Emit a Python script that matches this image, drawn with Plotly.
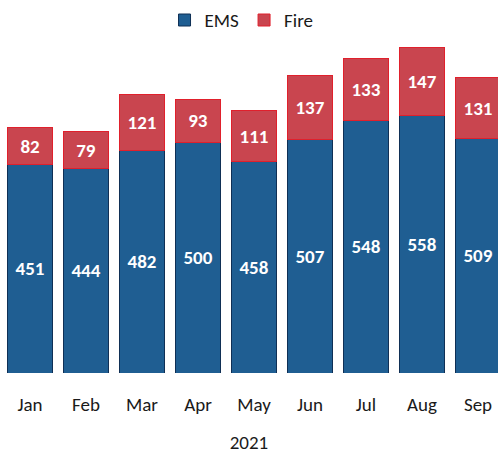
import plotly.graph_objects as go

months = ["Jan", "Feb", "Mar", "Apr", "May", "Jun", "Jul", "Aug", "Sep"]
ems = [451, 444, 482, 500, 458, 507, 548, 558, 509]
fire = [82, 79, 121, 93, 111, 137, 133, 147, 131]

FONT = "Carlito, Lato, Open Sans, sans-serif"

fig = go.Figure()
fig.add_trace(go.Bar(
    x=months, y=ems, name="EMS",
    marker=dict(color="#1f5e92", line=dict(color="#0f2f55", width=1)),
    text=ems, textposition="inside", insidetextanchor="middle",
    textfont=dict(color="white", size=19, family=FONT, weight="bold"),
    textangle=0,
))
fig.add_trace(go.Bar(
    x=months, y=fire, name="Fire",
    marker=dict(color="#c9454f", line=dict(color="#e0202c", width=1)),
    text=fire, textposition="inside", insidetextanchor="middle",
    textfont=dict(color="white", size=19, family=FONT, weight="bold"),
    textangle=0,
))

fig.update_layout(
    barmode="stack",
    bargap=0.21,
    width=498, height=458,
    margin=dict(l=0, r=0, t=40, b=85, autoexpand=False),
    paper_bgcolor="white", plot_bgcolor="white",
    font=dict(family=FONT, size=19, color="#1a1a1a"),
    showlegend=True,
    legend=dict(orientation="h", x=0.485, xanchor="center", y=0.956, yanchor="middle",
                yref="container", font=dict(size=19), itemwidth=30,
                traceorder="normal"),
    uniformtext=dict(minsize=10, mode="show"),
)
fig.update_xaxes(range=[-0.536, 8.357], automargin=False, showline=False, showgrid=False,
                 ticks="", ticklabelstandoff=18,
                 tickfont=dict(size=19), title=dict(text="2021", font=dict(size=19), standoff=20))
fig.update_yaxes(range=[0, 722], visible=False, showgrid=False, automargin=False)

fig.write_html("out.html", config={"displayModeBar": False},
               post_script="document.body.style.margin='0';")
